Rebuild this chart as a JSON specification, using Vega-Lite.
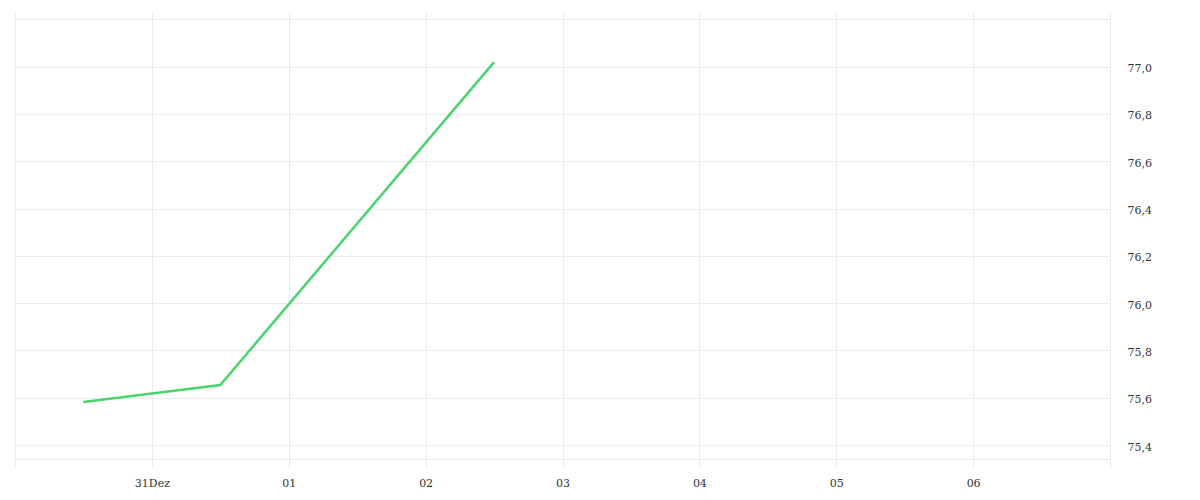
{
  "$schema": "https://vega.github.io/schema/vega-lite/v6.json",
  "width": 1095,
  "height": 456,
  "autosize": "none",
  "padding": {"left": 15, "top": 12, "right": 90, "bottom": 32},
  "background": "white",
  "config": {
    "view": {"stroke": null},
    "axis": {
      "labelFont": "DejaVu Serif",
      "labelFontSize": 11,
      "labelColor": "#333",
      "gridColor": "#ebebeb",
      "gridWidth": 1,
      "domain": false,
      "ticks": false,
      "title": null
    }
  },
  "data": {
    "values": [
      {"date": "2023-12-30T12:00:00", "price": 75.582},
      {"date": "2023-12-31T12:00:00", "price": 75.654},
      {"date": "2024-01-02T12:00:00", "price": 77.019}
    ]
  },
  "mark": {"type": "line", "color": "#4cd36d", "strokeWidth": 2.5},
  "encoding": {
    "x": {
      "field": "date",
      "type": "temporal",
      "scale": {
        "domain": [
          {"year": 2023, "month": 12, "date": 30},
          {"year": 2024, "month": 1, "date": 7}
        ]
      },
      "axis": {
        "orient": "bottom",
        "values": [
          {"year": 2023, "month": 12, "date": 30},
          {"year": 2023, "month": 12, "date": 31},
          {"year": 2024, "month": 1, "date": 1},
          {"year": 2024, "month": 1, "date": 2},
          {"year": 2024, "month": 1, "date": 3},
          {"year": 2024, "month": 1, "date": 4},
          {"year": 2024, "month": 1, "date": 5},
          {"year": 2024, "month": 1, "date": 6},
          {"year": 2024, "month": 1, "date": 7}
        ],
        "labelExpr": "date(datum.value) == 31 ? '31Dez' : (date(datum.value) == 30 || date(datum.value) == 7) ? '' : timeFormat(datum.value, '%d')",
        "labelPadding": 9,
        "labelFlush": false,
        "labelOverlap": false
      }
    },
    "y": {
      "field": "price",
      "type": "quantitative",
      "scale": {"domain": [75.303, 77.231], "zero": false, "nice": false},
      "axis": {
        "orient": "right",
        "values": [75.343, 75.4, 75.6, 75.8, 76.0, 76.2, 76.4, 76.6, 76.8, 77.0, 77.2],
        "labelExpr": "(datum.value < 75.39 || datum.value > 77.1) ? '' : replace(format(datum.value, '.1f'), '.', ',')",
        "labelPadding": 17,
        "labelOffset": 2,
        "labelFlush": false,
        "labelOverlap": false
      }
    }
  }
}
